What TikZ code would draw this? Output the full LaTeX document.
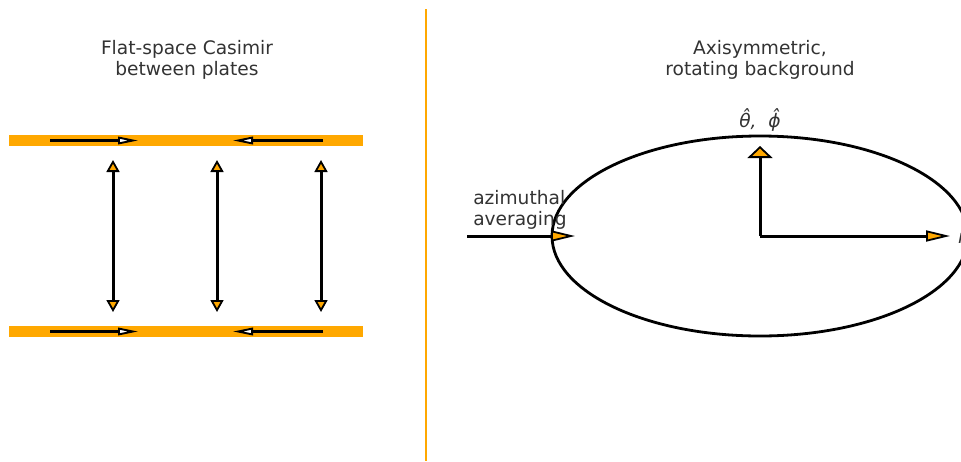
\documentclass[tikz,border=0pt]{standalone}
\usepackage{fontspec}
\setmainfont{DejaVu Sans}
\usetikzlibrary{arrows.meta}
\definecolor{plateor}{RGB}{255,168,0}
\definecolor{txt}{RGB}{51,51,51}
\tikzset{
  lbl/.style={text=txt, font=\fontsize{18.6}{21}\selectfont, align=center, inner sep=0pt},
  plate/.style={draw=plateor, line width=11pt},
  platearrow/.style={draw=black, line width=2.6pt, -{Triangle[length=20pt,width=7.5pt,fill=white,line width=1.9pt]}},
  vecarrow/.style={draw=black, line width=3pt, -{Triangle[length=12pt,width=13pt,fill=plateor,line width=1.8pt]}},
  orhead/.style={draw=black, line width=3pt},
}
\begin{document}
\begin{tikzpicture}[x=1pt,y=-1pt]
\clip (0,0) rectangle (961,461);
\fill[white] (0,0) rectangle (961,461);
% separator
\draw[plateor, line width=2.6pt] (426,9) -- (426,461);
% titles
\node[lbl] (tl) at (187,60) {Flat-space Casimir\\between plates};
\node[lbl] (tr) at (760,60) {Axisymmetric,\\rotating background};
% plates
\coordinate (p1a) at (9,140.5); \coordinate (p1b) at (363,140.5);
\coordinate (p2a) at (9,331.5); \coordinate (p2b) at (363,331.5);
\draw[plate] (p1a) -- (p1b);
\draw[plate] (p2a) -- (p2b);
% plate arrows
\coordinate (a1s) at (50,140.5); \coordinate (a1e) at (138,140.5);
\coordinate (a2s) at (323,140.5); \coordinate (a2e) at (233,140.5);
\coordinate (a3s) at (50,331.5); \coordinate (a3e) at (138,331.5);
\coordinate (a4s) at (323,331.5); \coordinate (a4e) at (233,331.5);
\draw[platearrow] (a1s) -- (a1e);
\draw[platearrow] (a2s) -- (a2e);
\draw[platearrow] (a3s) -- (a3e);
\draw[platearrow] (a4s) -- (a4e);
% vertical arrows
\foreach \i/\x in {1/113,2/217,3/321}{
  \coordinate (m\i) at (\x,236);
  \coordinate (u\i) at (\x,160);
  \coordinate (d\i) at (\x,312);
  \draw[vecarrow] (m\i) -- (u\i);
  \draw[vecarrow] (m\i) -- (d\i);
}
% ellipse
\coordinate (c) at (760,236);
\draw[line width=2.8pt] (c) ellipse [x radius=208, y radius=100];
\coordinate (top) at (760,146);
\coordinate (rgt) at (950,236);
\draw[orhead, -{Triangle[length=12pt,width=25pt,fill=plateor,line width=1.8pt]}] (c) -- (top);
\draw[orhead, -{Triangle[length=24pt,width=11pt,fill=plateor,line width=1.8pt]}] (c) -- (rgt);
\node[lbl, font=\fontsize{18.6}{21}\selectfont\itshape] (th) at (760,120) {θ̂,\ \ ϕ̂};
\node[lbl, font=\fontsize{18.6}{21}\selectfont\itshape, anchor=west] (rh) at (958,236) {r̂};
% azimuthal
\coordinate (az1) at (467,236);
\coordinate (az2) at (575,236);
\draw[orhead, -{Triangle[length=24pt,width=11pt,fill=plateor,line width=1.8pt]}] (az1) -- (az2);
\node[lbl, align=left] (azl) at (520,210) {azimuthal\\averaging};
\end{tikzpicture}
\end{document}
